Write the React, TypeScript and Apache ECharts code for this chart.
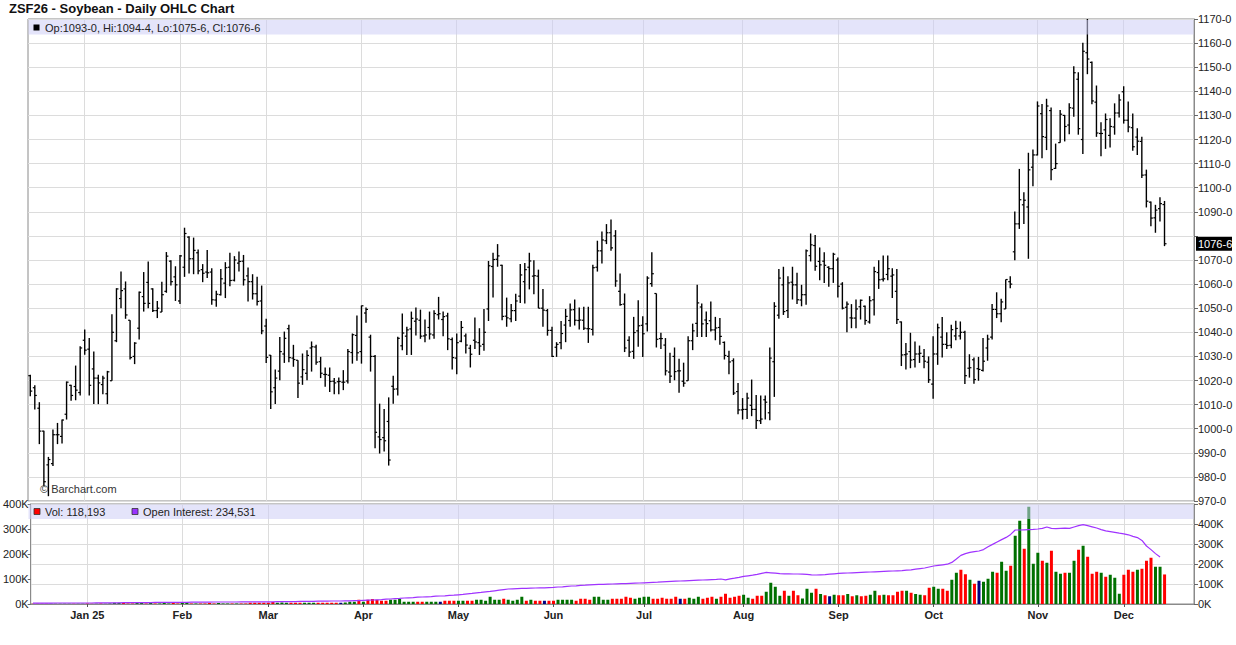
import React, { useEffect, useRef } from "react";
import * as echarts from "echarts";

const TITLE = "ZSF26 - Soybean - Daily OHLC Chart";
const FIRST_SESSION = "2024-12-13";
const HOLIDAYS = ["2024-12-25", "2025-01-01", "2025-01-20", "2025-02-17", "2025-04-18", "2025-05-26", "2025-06-19", "2025-07-04", "2025-09-01", "2025-11-27"];
const MONTHS = ["Jan", "Feb", "Mar", "Apr", "May", "Jun", "Jul", "Aug", "Sep", "Oct", "Nov", "Dec"];
const PAD_SLOTS = 6;

const PRICE_MIN = 970;
const PRICE_MAX = 1170;
const PRICE_STEP = 10;
const VOL_MAX = 400000;
const OI_MAX = 500000;
const K_STEP = 100000;

// [open, high, low, close] in cents per bushel
const ohlcDec24 = [[1022,1022.4,1013.5,1015.6],[1017,1018,1008,1013.8],[1008.5,1011,993.6,999],[999,999.1,976.2,978],[985,988.3,972,987.2],[985.5,999.7,984.5,997.5],[997.5,1002.4,993.6,997.5],[996.8,1003.8,993.9,1003.6],[1006,1019.6,1003.8,1019.3],[1018,1018.2,1011.6,1013.8],[1017.5,1026.2,1011.8,1016],[1015,1034.2,1013.8,1033.5]];
const ohlcJan25 = [[1036.7,1041.2,1030.7,1032.6],[1033,1037.6,1013.8,1018],[1024.8,1032,1010.2,1021],[1021,1022.4,1010.2,1019],[1018.3,1022,1014.3,1021],[1014.5,1024,1010.2,1023.6],[1019.9,1047.5,1019.9,1040],[1036.5,1058.3,1035.9,1058],[1054,1065.2,1050,1057.3],[1058,1061.1,1045.6,1047.2],[1045,1045,1028.7,1029.5],[1030,1035.9,1026.8,1035.5],[1041.7,1056.9,1037,1056.6],[1054.8,1065,1048.6,1052],[1060.7,1069.4,1050,1052],[1058,1058.3,1048.4,1049],[1049,1053,1045.9,1050],[1048.4,1061,1048.4,1055.6],[1057,1073.3,1056.4,1071.6],[1069.5,1069.9,1059.4,1061],[1063,1067.4,1053,1059.7]];
const ohlcFeb25 = [[1053,1072.1,1051.7,1071.7],[1067,1083.4,1063,1081],[1079.5,1079.9,1064.4,1070.5],[1070.5,1079.3,1064.1,1074],[1073,1074.4,1064.1,1065.5],[1066,1068.3,1060.8,1064.5],[1065,1074.1,1062.5,1064.7],[1065,1066.6,1051.4,1053.5],[1053.4,1057.2,1050.6,1055.8],[1055.6,1066.3,1055.3,1062.2],[1060.4,1069.1,1054.2,1066.8],[1067,1073,1059.1,1061.5],[1061.6,1071.6,1061.1,1070],[1068.7,1073.5,1065.2,1069.4],[1069.5,1072.1,1059.4,1061.8],[1063.4,1066.9,1052.8,1061],[1061,1064.1,1053.6,1056],[1056,1063,1051.1,1052.8],[1053,1059.4,1039.2,1040.6]];
const ohlcMar25 = [[1042.6,1045.6,1027.3,1029.6],[1030.5,1030.6,1008.2,1015.3],[1017,1024.6,1010.2,1021],[1023.9,1038.1,1020.1,1032],[1031,1040.3,1027.3,1037.5],[1041.5,1043.1,1027.6,1029.5],[1029.3,1034.8,1025.7,1028.7],[1028.4,1028.4,1012.7,1018.9],[1021.5,1031.2,1018.2,1024.5],[1023,1032.6,1020.1,1030.4],[1033.5,1036.2,1023.7,1034],[1033.9,1034.8,1026.5,1027.6],[1027.8,1029.8,1021,1023],[1022.5,1025.4,1017.4,1022.5],[1022.2,1025.4,1015.2,1019.6],[1019.7,1021,1014.3,1019],[1019.5,1021.2,1014.3,1019.6],[1019.3,1024.3,1016,1019.3],[1019.8,1033.1,1018.8,1032],[1031.6,1039.5,1027,1039],[1038.7,1047,1028.2,1031.5]];
const ohlcApr25 = [[1032,1051.1,1027,1051],[1048,1050.3,1044,1049.5],[1038,1039,1023.7,1030],[1030,1030.6,991.9,998.5],[996.6,1010.4,989.7,995.5],[996.3,1008.2,990.5,995],[1003,1013,984.7,987],[1017.6,1022,1010.4,1016.4],[1016.5,1038.2,1013.8,1037.5],[1034.4,1047.8,1032.6,1039.7],[1038.4,1042.3,1030.6,1041],[1041.4,1048.6,1030.6,1045.8],[1044.6,1050.3,1038.7,1045.5],[1045,1049.4,1037.3,1038.4],[1038.5,1045.3,1035.9,1038.9],[1042,1048.6,1037,1039.3],[1038.9,1049.2,1037.3,1047.8],[1047.3,1054.7,1045.3,1047.7],[1045.3,1048.6,1038.4,1046.5],[1046.8,1048.1,1032.6,1037.3],[1037,1037.8,1024.6,1029.5]];
const ohlcMay25 = [[1029.3,1039.5,1022.6,1035.7],[1036.3,1044.7,1035.9,1042],[1038.5,1039.5,1031.2,1034.7],[1033.4,1034.8,1025.4,1030.9],[1036.7,1046.1,1033.1,1036],[1035.7,1041.7,1030.6,1034.3],[1035,1049.7,1032.3,1040],[1049.7,1069.6,1044.7,1067.6],[1067.3,1073,1054.4,1070.2],[1070.3,1076.6,1067.2,1071.7],[1067.8,1068,1045,1046.6],[1046.7,1054.4,1042.3,1046],[1045.6,1051.7,1044.2,1049],[1049,1056,1044.7,1053],[1055,1068.3,1052.2,1063.8],[1061,1068.8,1052,1066],[1067,1073,1057.8,1069.6],[1063.3,1069.9,1055.8,1063.5],[1063.3,1066,1050,1050],[1050,1058,1042.3,1049.2],[1049,1049.7,1038.6,1040.8]];
const ohlcJun25 = [[1040.8,1042.3,1029.8,1030],[1033.8,1035.9,1029.8,1035],[1035.7,1044.7,1033,1039.5],[1043,1049.7,1035.9,1046.6],[1044.9,1052,1042.3,1049.3],[1049.4,1053.6,1042.8,1045],[1044.9,1050.3,1041.2,1045.1],[1045,1050.6,1041,1041.7],[1041.5,1050.6,1035.6,1041.5],[1041.2,1068,1038.7,1066.8],[1067,1078,1065.2,1073.8],[1073.8,1081.8,1068.5,1078.3],[1078,1084.9,1076.6,1081.3],[1081.3,1086.8,1073.8,1075],[1080,1082.4,1058.9,1061.3],[1057,1064.4,1051,1051.5],[1051.7,1056.1,1031.8,1033.5],[1036.7,1038.4,1029.8,1031.8],[1032.1,1046.4,1029,1039.9],[1040.6,1053.3,1034,1042.7]];
const ohlcJul25 = [[1042.9,1046.7,1029.8,1039.4],[1043.5,1063.3,1040.3,1062.5],[1060.2,1073.2,1058.9,1064.3],[1056.1,1056.1,1033.7,1037.1],[1037.4,1039.8,1033.1,1037.4],[1034.7,1037.6,1022.1,1024],[1023.5,1031.5,1019,1021.8],[1030,1033.7,1020.1,1023.7],[1024,1029,1014.9,1024],[1019.7,1027.4,1017.4,1018.9],[1019.9,1038.4,1019.9,1036.5],[1036.5,1043.6,1032.6,1040.6],[1043.7,1059.7,1038.1,1052.2],[1050.5,1052,1038.1,1043.5],[1045.1,1048.6,1038.1,1043.6],[1044.8,1052.8,1040.3,1041],[1041,1046.4,1036.7,1041.8],[1042,1045.9,1034.8,1038.3],[1035.8,1036.2,1028.7,1030.4],[1030,1032.3,1022.6,1027.7],[1028.2,1029.2,1014,1014.8],[1015.4,1019,1006,1007.8]];
const ohlcAug25 = [[1007.8,1012.7,1003.8,1008],[1008,1014.9,1004,1012.7],[1009.7,1020.4,1005.2,1008],[1008,1014,999.9,1003.4],[1003.3,1013.8,1001.9,1004],[1012,1013.8,1003.8,1011],[1006.6,1033.7,1003.5,1029.3],[1027.8,1052.5,1013.2,1050.8],[1047.1,1066.3,1045.6,1062.5],[1059.7,1067.2,1047.2,1048.6],[1049,1063.3,1045.9,1060.5],[1060.8,1067.2,1053.6,1059.7],[1059.7,1064.7,1051.7,1053.5],[1053.4,1059.7,1050.8,1055.6],[1055.6,1074.4,1051.4,1073.8],[1071.8,1081,1069.4,1076.3],[1076,1080.4,1065.5,1067.4],[1069.4,1075.2,1061.6,1068],[1069.5,1073.2,1060.5,1067.8],[1067,1067.4,1058.9,1066.4],[1066.4,1073,1060.5,1072.4]];
const ohlcSep25 = [[1070,1071,1054.4,1059.1],[1060,1060.8,1049.5,1050],[1050.4,1052.8,1040,1051.7],[1046,1051.7,1041.7,1045.9],[1045.9,1053.6,1041.7,1049.7],[1050.6,1053.6,1045.3,1053.3],[1050.8,1051.1,1043.1,1044.9],[1044.3,1055,1043.6,1053.1],[1053.5,1067.2,1047,1065.2],[1064.8,1069.9,1058,1061.8],[1062,1071.9,1061.1,1062.2],[1064,1071.9,1061.6,1066.4],[1063.3,1066.6,1054.2,1063.8],[1057,1066.3,1043.4,1045.3],[1044.3,1044.5,1026,1030.6],[1030.7,1035.6,1024.6,1031],[1032,1039.8,1025.1,1028.5],[1028.7,1036.2,1025.4,1031],[1031,1034.5,1027.3,1031.3],[1030,1033.1,1025.1,1028],[1027.6,1030,1019,1020.3]];
const ohlcOct25 = [[1018.5,1038.4,1012.4,1031],[1031,1043.6,1026.5,1041.9],[1038,1046.4,1029.5,1035],[1035,1040,1033.1,1034.5],[1034.6,1043.1,1033.4,1041.1],[1038.5,1044.8,1036.7,1041.6],[1038.5,1044.5,1037,1040],[1040,1040.6,1018.5,1022],[1025.1,1030.9,1021.2,1025.3],[1028.6,1029.5,1018.7,1020.4],[1024.9,1029.8,1019.9,1024.6],[1024.2,1037.6,1023.7,1028],[1033.5,1039,1028.2,1037.2],[1038,1051.7,1037,1049.5],[1049.5,1056.6,1045.9,1047.7],[1047.7,1053.9,1044.2,1052.6],[1049.7,1061.9,1049.7,1061.9],[1061,1063.3,1058.3,1060],[1073.4,1090.1,1069.9,1085],[1085,1107.8,1082.9,1095],[1092.9,1098.1,1084.9,1094.8],[1092,1114.5,1070.5,1107.4],[1108.5,1115.8,1100.6,1113.6]];
const ohlcNov25 = [[1113.6,1135.8,1113.4,1133.9],[1130.7,1134.7,1112.2,1121.2],[1120.9,1136.9,1115.6,1133.9],[1132,1133.3,1103.1,1107.5],[1108,1118.3,1107.8,1110],[1118.7,1132.2,1118.6,1130.5],[1130,1130.2,1119.2,1125.4],[1126,1135,1122.2,1133.2],[1133,1150.4,1129.4,1147.7],[1145,1147.9,1122,1124.5],[1120,1160.1,1114,1156.6],[1156,1170,1147.1,1153.4],[1152,1152.4,1134.6,1136],[1135.5,1142.4,1121.1,1122.7],[1122.5,1127.2,1113.1,1122.5],[1124,1130.8,1116.1,1128.3],[1121.7,1128.8,1116.7,1125.4],[1125.2,1135,1122,1131],[1131,1138.8,1129.1,1136.4]];
const ohlcDec25 = [[1139.8,1142.1,1126.6,1128],[1128,1135.8,1123,1125.2],[1124.9,1130.8,1115.3,1117],[1121,1124.7,1113.6,1119.3],[1119.2,1121.1,1104,1105.2],[1105.3,1107.5,1091.8,1094.4],[1094,1094.3,1084,1087.4],[1087.5,1092.9,1081.3,1090.7],[1091.3,1096,1086,1093.4],[1093,1094.5,1075.75,1076.75]];

const ohlc = [...ohlcDec24, ...ohlcJan25, ...ohlcFeb25, ...ohlcMar25, ...ohlcApr25, ...ohlcMay25, ...ohlcJun25, ...ohlcJul25, ...ohlcAug25, ...ohlcSep25, ...ohlcOct25, ...ohlcNov25, ...ohlcDec25];

// daily volume, thousands of contracts
const volumeK = [
  1,1,1,1,1,1,1,1,1,1,1,1,
  2,1,1,2,1,2,
  5,5,4,2,2,4,4,2,4,2,2,4,
  2,4,2,5,5,2,2,2,2,4,2,4,
  2,2,2,2,2,2,5,5,5,5,5,8,
  5,6,5,5,5,5,5,5,5,5,5,5,
  5,5,5,6,9,9,17,9,17,20,17,13,
  13,17,17,20,9,9,9,9,9,9,9,9,
  9,13,13,13,13,13,13,13,17,17,13,29,
  17,17,21,17,13,17,29,13,17,13,13,13,
  13,13,17,17,17,17,13,21,21,17,29,29,
  17,17,21,21,21,29,25,21,25,29,29,21,
  21,25,21,21,29,21,21,25,21,29,21,25,
  29,21,29,41,25,29,33,37,25,21,33,33,
  49,85,69,33,53,33,53,35,
  22,61,45,61,40,35,31,37,35,35,
  40,31,35,31,33,37,53,35,37,35,
  35,49,53,53,45,40,37,35,65,69,
  61,61,53,97,125,137,119,97,81,93,
  89,101,129,125,169,133,153,273,333,221,
  389,161,205,173,165,213,129,121,125,125,
  173,217,233,189,121,129,125,109,117,105,
  41,117,137,129,137,141,173,185,149,149,
  118.193
];

// g = up day, r = down day, n = unchanged
const volumeDir =
  "rrrrgggggr" + "ggrrgrgggg" + "rrrggrgrgg" + "grrggrgrrr" + "rgggrgrrrr" +
  "rrrrgggrrr" + "gggrrrrrng" + "ggrgrrrrrg" + "gggggrrggg" + "nrrrggrrgg" +
  "ggggrggggr" + "grrnrrgggg" + "rrrrggggrr" + "rrrggggrrr" + "rrrnrgggrr" +
  "rgrrrrrggr" + "rrggggrgrr" + "gggrgrngrr" + "grgrrggrgr" + "rrrgrggrrg" +
  "grrggrrgrn" + "gggrggrggr" + "gggrgrggrg" + "grgrrrgrgg" + "grrrgrrrgg" + "r";

// open interest, thousands of contracts
const openInterestK = [
  4,4,4,4,4,5,5,5,5,5,5,5,
  5,5,6,6,6,6,6,6,7,7,7,7,7,7,7,8,8,8,8,8,8,
  8,8,9,9,9,9,9,10,10,10,10,10,10,11,11,11,11,11,11,
  11,11,12,12,12,12,12,13,13,13,13,14,14,14,15,15,15,16,16,17,17,
  18,19,20,21,22,24,25,27,28,30,31,32,34,35,36,37,39,40,41,43,44,
  46,48,51,53,56,58,61,63,66,69,72,75,76,77,78,78,79,80,81,81,82,
  83,85,86,88,90,91,93,94,96,97,98,98,99,100,101,102,102,103,104,105,
  106,107,108,109,111,112,113,114,115,116,117,118,119,120,121,122,123,125,121,126,129,133,
  138,141,144,148,153,158,156,154,152,151,151,150,150,149,148,146,145,146,147,149,151,
  153,154,155,156,157,158,159,160,161,162,163,164,165,166,167,169,171,174,177,180,185,
  190,193,196,199,208,225,243,252,258,262,265,272,286,298,310,322,333,348,370,370,371,372,373,
  375,378,385,378,377,378,379,378,385,392,397,392,386,380,372,366,362,358,354,
  351,346,338,332,318,290,272,252,234.531
];

const FONT = 'Arial, "Liberation Sans", Helvetica, sans-serif';
const DIR_COLORS: Record<string, string> = { g: "#007000", r: "#ff0000", n: "#000080" };
const GRID_LEFT = 28;
const GRID_WIDTH = 1166;
const PRICE_TOP = 19;
const PRICE_HEIGHT = 482;
const VOL_TOP = 504;
const VOL_HEIGHT = 100;
const TAG_CLEARANCE = 5; // axis labels this close to the last-price tag are hidden

function buildSessions(n: number): string[] {
  const out: string[] = [];
  const d = new Date(FIRST_SESSION + "T12:00:00Z");
  while (out.length < n) {
    const iso = d.toISOString().slice(0, 10);
    const wd = d.getUTCDay();
    if (wd !== 0 && wd !== 6 && HOLIDAYS.indexOf(iso) < 0) out.push(iso);
    d.setUTCDate(d.getUTCDate() + 1);
  }
  return out;
}

function fmtPrice(v: number): string {
  const whole = Math.floor(v + 1e-9);
  const eighths = Math.round((v - whole) * 8);
  return `${whole}-${eighths}`;
}

function fmtCount(k: number): string {
  return Math.round(k * 1000).toLocaleString("en-US");
}

export default function App() {
  const ref = useRef<HTMLDivElement>(null);

  useEffect(() => {
    document.body.style.margin = "0";
    const el = ref.current;
    if (!el) return;
    const chart = echarts.init(el, undefined, { renderer: "svg" });

    const dates = buildSessions(ohlc.length);
    const cats = dates.concat(Array.from({ length: PAD_SLOTS }, (_, k) => `pad${k}`));
    const isMonthStart = (i: number) =>
      i > 0 && i < dates.length && dates[i].slice(0, 7) !== dates[i - 1].slice(0, 7);
    const monthIdx = dates.map((_, i) => i).filter(isMonthStart);
    const monthLabel = (i: number) => {
      const d = dates[i];
      if (!d) return "";
      const m = Number(d.slice(5, 7)) - 1;
      return m === 0 ? `${MONTHS[0]} ${d.slice(2, 4)}` : MONTHS[m];
    };

    const axisText = { fontSize: 11, fontFamily: FONT, color: "#222" };
    const monthLineMark = {
      silent: true,
      symbol: ["none", "none"],
      label: { show: false },
      emphasis: { disabled: true },
      lineStyle: { color: "#dcdcdc", width: 1, type: "solid" },
      z: 1,
      data: monthIdx.map((i) => ({ xAxis: i })),
    };

    const last = ohlc[ohlc.length - 1];
    const lastClose = last[3];
    const legendText = `Op:${fmtPrice(last[0])}, Hi:${fmtPrice(last[1])}, Lo:${fmtPrice(last[2])}, Cl:${fmtPrice(last[3])}`;

    const option: any = {
      animation: false,
      backgroundColor: "#ffffff",
      textStyle: { fontFamily: FONT },
      grid: [
        { left: GRID_LEFT, top: PRICE_TOP, width: GRID_WIDTH, height: PRICE_HEIGHT, show: true, borderColor: "#8a8a8a", borderWidth: 1, backgroundColor: "transparent" },
        { left: GRID_LEFT, top: VOL_TOP, width: GRID_WIDTH, height: VOL_HEIGHT, show: true, borderColor: "#8a8a8a", borderWidth: 1, backgroundColor: "transparent" },
      ],
      xAxis: [
        {
          type: "category", gridIndex: 0, data: cats, boundaryGap: true,
          axisLine: { show: false }, axisTick: { show: false }, axisLabel: { show: false }, splitLine: { show: false },
        },
        {
          type: "category", gridIndex: 1, data: cats, boundaryGap: true,
          axisLine: { show: true, lineStyle: { color: "#8a8a8a" } },
          axisTick: { show: true, alignWithLabel: true, length: 3, interval: (i: number) => isMonthStart(i), lineStyle: { color: "#555" } },
          axisLabel: {
            interval: (i: number) => isMonthStart(i),
            formatter: (_v: string, i: number) => monthLabel(i),
            fontSize: 11, fontWeight: "bold", fontFamily: FONT, color: "#222", margin: 5,
          },
          splitLine: { show: false },
        },
      ],
      yAxis: [
        {
          type: "value", gridIndex: 0, position: "right", min: PRICE_MIN, max: PRICE_MAX, interval: PRICE_STEP,
          axisLine: { show: true, lineStyle: { color: "#8a8a8a" } },
          axisTick: { show: true, length: 4, lineStyle: { color: "#666" } },
          axisLabel: {
            ...axisText, margin: 4,
            formatter: (v: number) => (Math.abs(v - lastClose) < TAG_CLEARANCE ? "" : `${v}-0`),
          },
          splitLine: { show: true, lineStyle: { color: "#dcdcdc", width: 1 } },
        },
        {
          type: "value", gridIndex: 1, position: "left", min: 0, max: VOL_MAX, interval: K_STEP,
          axisLine: { show: true, lineStyle: { color: "#8a8a8a" } },
          axisTick: { show: true, length: 3, lineStyle: { color: "#666" } },
          axisLabel: { ...axisText, margin: 2, formatter: (v: number) => `${v / 1000}K` },
          splitLine: { show: false },
        },
        {
          type: "value", gridIndex: 1, position: "right", min: 0, max: OI_MAX, interval: K_STEP,
          axisLine: { show: true, lineStyle: { color: "#8a8a8a" } },
          axisTick: { show: true, length: 4, lineStyle: { color: "#666" } },
          axisLabel: { ...axisText, margin: 4, formatter: (v: number) => (v >= OI_MAX ? "" : `${v / 1000}K`) },
          splitLine: { show: true, lineStyle: { color: "#dcdcdc", width: 1 } },
        },
      ],
      series: [
        { type: "line", xAxisIndex: 0, yAxisIndex: 0, data: [], z: 1, silent: true, markLine: monthLineMark },
        { type: "line", xAxisIndex: 1, yAxisIndex: 1, data: [], z: 1, silent: true, markLine: monthLineMark },
        {
          type: "custom", name: "OHLC", xAxisIndex: 0, yAxisIndex: 0, z: 3, silent: true, clip: true,
          data: ohlc.map((r, i) => [i, r[0], r[1], r[2], r[3]]),
          encode: { x: 0, y: [1, 2, 3, 4] },
          renderItem: (_params: any, api: any) => {
            const i = api.value(0);
            const pO = api.coord([i, api.value(1)]);
            const pH = api.coord([i, api.value(2)]);
            const pL = api.coord([i, api.value(3)]);
            const pC = api.coord([i, api.value(4)]);
            const x = pH[0];
            const t = 2;
            return {
              type: "group",
              children: [
                { type: "line", shape: { x1: x, y1: pH[1], x2: x, y2: pL[1] }, style: { stroke: "#000", lineWidth: 1.4 } },
                { type: "line", shape: { x1: x - t, y1: pO[1], x2: x, y2: pO[1] }, style: { stroke: "#000", lineWidth: 1.2 } },
                { type: "line", shape: { x1: x, y1: pC[1], x2: x + t, y2: pC[1] }, style: { stroke: "#000", lineWidth: 1.2 } },
              ],
            };
          },
        },
        {
          type: "bar", name: "Vol", xAxisIndex: 1, yAxisIndex: 1, barWidth: 3, z: 3, silent: true,
          data: volumeK.map((v, i) => ({ value: v * 1000, itemStyle: { color: DIR_COLORS[volumeDir[i]] || "#000080" } })),
        },
        {
          type: "line", name: "Open Interest", xAxisIndex: 1, yAxisIndex: 2, z: 4, silent: true,
          data: openInterestK.map((v) => v * 1000),
          symbol: "none", showSymbol: false,
          lineStyle: { color: "#a033ff", width: 1.2 },
        },
      ],
    };

    chart.setOption(option);

    const tagY = chart.convertToPixel({ yAxisIndex: 0 } as any, lastClose) as unknown as number;
    const stripFill = "rgba(205,205,245,0.55)";
    const txt = (id: string, x: number, y: number, text: string, extra: any = {}) => ({
      id, type: "text", x, y, z: 101, silent: true,
      style: { text, fill: "#222", fontSize: 11, fontFamily: FONT, verticalAlign: "middle", ...extra },
    });
    const square = (id: string, x: number, y: number, fill: string) => ({
      id, type: "rect", z: 101, silent: true,
      shape: { x, y, width: 6, height: 6 },
      style: { fill, stroke: "#333", lineWidth: 0.8 },
    });

    chart.setOption({
      graphic: [
        txt("title", 9, 8, TITLE, { fontSize: 13, fontWeight: "bold", fill: "#111" }),
        { id: "pstrip", type: "rect", z: 100, silent: true, shape: { x: GRID_LEFT + 0.5, y: PRICE_TOP + 1, width: GRID_WIDTH - 1, height: 14.5 }, style: { fill: stripFill } },
        { id: "psq", type: "rect", z: 101, silent: true, shape: { x: 33.5, y: 24.5, width: 6, height: 6 }, style: { fill: "#000" } },
        txt("ptext", 45, 27.5, legendText),
        { id: "vstrip", type: "rect", z: 100, silent: true, shape: { x: GRID_LEFT + 0.5, y: VOL_TOP + 0.5, width: GRID_WIDTH - 1, height: 14.5 }, style: { fill: stripFill } },
        square("vsq", 34, 508.5, "#ff0000"),
        txt("vtext", 45, 512, `Vol: ${fmtCount(volumeK[volumeK.length - 1])}`),
        square("oisq", 132, 508.5, "#9933ff"),
        txt("oitext", 143, 512, `Open Interest: ${fmtCount(openInterestK[openInterestK.length - 1])}`),
        txt("wm", 40, 488.5, "\u00A9 Barchart.com", { fill: "#333" }),
        { id: "tagbg", type: "rect", z: 101, silent: true, shape: { x: 1196, y: tagY - 7, width: 36, height: 14 }, style: { fill: "#000" } },
        txt("tagtxt", 1198, tagY, fmtPrice(lastClose), { fill: "#fff" }),
      ],
    });

    return () => chart.dispose();
  }, []);

  return (
    <div
      ref={ref}
      style={{ position: "absolute", left: 0, top: 0, width: 1236, height: 645, background: "#fff" }}
    />
  );
}
